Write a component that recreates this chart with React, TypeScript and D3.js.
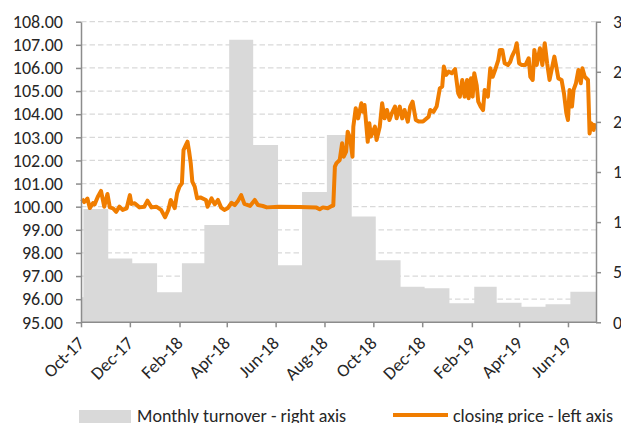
import * as d3 from "d3";
import React, { useRef, useEffect } from "react";

// monthly turnover (right axis), the first entry is the tail of Sep-17
const turnoverMonths = ["2017-09", "2017-10", "2017-11", "2017-12", "2018-01", "2018-02", "2018-03", "2018-04", "2018-05", "2018-06", "2018-07", "2018-08", "2018-09", "2018-10", "2018-11", "2018-12", "2019-01", "2019-02", "2019-03", "2019-04", "2019-05", "2019-06"];
const turnoverValues = [25, 113, 63.6, 59, 30, 59, 97, 282, 177, 57, 130, 187, 105.5, 62, 35.5, 34, 19, 35.5, 19.6, 15.6, 18, 30.6];

// closing price (left axis)
const priceDates = [
  "2017-10-02", "2017-10-05", "2017-10-09", "2017-10-12", "2017-10-16", "2017-10-18", "2017-10-22", "2017-10-26", "2017-10-30",
  "2017-11-03", "2017-11-06", "2017-11-10", "2017-11-14", "2017-11-18", "2017-11-22", "2017-11-27",
  "2017-12-01", "2017-12-03", "2017-12-07", "2017-12-13", "2017-12-19", "2017-12-23", "2017-12-28",
  "2018-01-03", "2018-01-09", "2018-01-14", "2018-01-18", "2018-01-21", "2018-01-26", "2018-01-29",
  "2018-02-01", "2018-02-04", "2018-02-06", "2018-02-09", "2018-02-11", "2018-02-13", "2018-02-15", "2018-02-17", "2018-02-20", "2018-02-23", "2018-02-27",
  "2018-03-06", "2018-03-08", "2018-03-13", "2018-03-17", "2018-03-21", "2018-03-25", "2018-03-29",
  "2018-04-02", "2018-04-07", "2018-04-11", "2018-04-15", "2018-04-19", "2018-04-23", "2018-04-30",
  "2018-05-06", "2018-05-10", "2018-05-16", "2018-05-21", "2018-06-05", "2018-07-01", "2018-07-22", "2018-07-26", "2018-07-30",
  "2018-08-05", "2018-08-10", "2018-08-12", "2018-08-14", "2018-08-16", "2018-08-20", "2018-08-23", "2018-08-25", "2018-08-28", "2018-08-30",
  "2018-09-02", "2018-09-05", "2018-09-06", "2018-09-09", "2018-09-12", "2018-09-16", "2018-09-18", "2018-09-20", "2018-09-22", "2018-09-24", "2018-09-26", "2018-09-28",
  "2018-10-03", "2018-10-05", "2018-10-09", "2018-10-12", "2018-10-15", "2018-10-18", "2018-10-21", "2018-10-24", "2018-10-28", "2018-10-30",
  "2018-11-03", "2018-11-06", "2018-11-09", "2018-11-13", "2018-11-16", "2018-11-19", "2018-11-23", "2018-11-27",
  "2018-12-02", "2018-12-09", "2018-12-11", "2018-12-15", "2018-12-19", "2018-12-23", "2018-12-26", "2018-12-28", "2018-12-31",
  "2019-01-03", "2019-01-07", "2019-01-11", "2019-01-15", "2019-01-17", "2019-01-20", "2019-01-23", "2019-01-26", "2019-01-28", "2019-01-31",
  "2019-02-02", "2019-02-04", "2019-02-07", "2019-02-09", "2019-02-12", "2019-02-15", "2019-02-17", "2019-02-21", "2019-02-24", "2019-02-27",
  "2019-03-02", "2019-03-06", "2019-03-08", "2019-03-11", "2019-03-14", "2019-03-18", "2019-03-21", "2019-03-23", "2019-03-27", "2019-03-29",
  "2019-04-01", "2019-04-04", "2019-04-09", "2019-04-13", "2019-04-15", "2019-04-18", "2019-04-20", "2019-04-23", "2019-04-27", "2019-04-30",
  "2019-05-03", "2019-05-06", "2019-05-09", "2019-05-12", "2019-05-15", "2019-05-17", "2019-05-20", "2019-05-24", "2019-05-27", "2019-05-30",
  "2019-06-01", "2019-06-03", "2019-06-06", "2019-06-08", "2019-06-11", "2019-06-14", "2019-06-17", "2019-06-19", "2019-06-22", "2019-06-26", "2019-06-28", "2019-06-30",
  "2019-07-03", "2019-07-05"
];
const priceValues = [
  100.33, 100.2, 100.35, 99.94, 100.16, 100.1, 100.43, 100.68, 100.0,
  100.55, 99.97, 99.93, 99.78, 100.0, 99.86, 99.93,
  100.5, 100.12, 100.15, 99.97, 100.0, 100.26, 99.97,
  100.0, 99.86, 99.54, 99.86, 100.29, 99.94, 100.58,
  100.87, 101.01, 102.45, 102.67, 102.81, 102.38, 101.88, 101.08, 100.87, 100.36, 100.4,
  100.29, 100.0, 100.36, 100.1, 100.29, 99.96, 99.86,
  99.93, 100.17, 100.07, 100.25, 100.5, 100.12, 100.03,
  100.29, 100.07, 100.03, 99.97, 100.0, 99.99, 99.96, 99.89, 99.97,
  99.93, 100.03, 100.05, 101.73, 101.88, 102.02, 102.74, 102.16, 102.38, 103.24,
  102.96, 102.16, 103.46, 104.26, 103.82, 104.47, 104.11, 104.4, 103.61, 102.81, 103.61, 103.03,
  103.46, 102.88, 103.46, 104.47, 103.82, 104.18, 103.75, 104.04, 104.33, 103.82,
  104.33, 103.82, 104.18, 103.68, 104.33, 104.54, 103.75, 103.68,
  103.68, 103.89, 104.18, 104.1, 104.33, 105.12, 105.19, 106.06, 105.7,
  105.84, 105.77, 105.95, 104.9, 104.76, 105.48, 104.76, 105.48, 104.69, 105.55,
  104.76, 105.77, 105.26, 104.54, 104.33, 104.18, 105.05, 104.76, 105.99, 105.62,
  105.91, 106.34, 106.78, 106.78, 106.2, 106.13, 106.27, 106.49, 106.78, 107.07,
  106.2, 106.13, 106.13, 106.42, 105.62, 105.48, 106.78, 106.13, 106.85, 106.13,
  107.07, 106.2, 105.48, 105.99, 106.49, 106.13, 105.55, 105.48, 104.9, 104.04,
  103.75, 105.05, 104.33, 105.05, 105.34, 105.91, 105.34, 105.99, 105.62, 105.48, 103.17, 103.61,
  103.32, 103.61
];

const leftTicks = d3.range(95, 108.5, 1);
const rightTicks = d3.range(0, 301, 50);

const W = 621;
const H = 423;
const FONT = "Carlito, Calibri, Lato, sans-serif";

function Chart() {
  const ref = useRef(null);

  useEffect(() => {
    const svg = d3.select(ref.current);
    svg.selectAll("*").remove();

    const left = 81;
    const right = 596;
    const top = 21.7;
    const bottom = 322.3;

    const parse = d3.timeParse("%Y-%m-%d");
    const start = new Date(2017, 9, 1);
    const end = new Date(2019, 6, 6);

    const x = d3.scaleTime().domain([start, end]).range([left, right]);
    const yL = d3.scaleLinear().domain([95, 108]).range([bottom, top]);
    const yR = d3.scaleLinear().domain([0, 300]).range([bottom, top]);

    // gridlines
    svg.append("g")
      .selectAll("line")
      .data(leftTicks.slice(1))
      .enter()
      .append("line")
      .attr("x1", left)
      .attr("x2", right)
      .attr("y1", (d) => yL(d))
      .attr("y2", (d) => yL(d))
      .attr("stroke", "#d9d9d9")
      .attr("stroke-width", 1.3)
      .attr("stroke-dasharray", "5.5,3");

    // turnover step area
    const steps = turnoverMonths.map((m, i) => {
      let d = d3.timeDay.offset(d3.timeParse("%Y-%m")(m), 3);
      if (d < start) d = start;
      return { date: d, value: turnoverValues[i] };
    });
    steps.push({ date: end, value: turnoverValues[turnoverValues.length - 1] });

    const area = d3.area()
      .x((d) => x(d.date))
      .y0(bottom)
      .y1((d) => yR(d.value))
      .curve(d3.curveStepAfter);

    svg.append("path")
      .datum(steps)
      .attr("d", area)
      .attr("fill", "#d9d9d9");

    // price line
    const prices = priceDates.map((d, i) => ({ date: parse(d), value: priceValues[i] }));
    const line = d3.line()
      .x((d) => x(d.date))
      .y((d) => yL(d.value))
      .curve(d3.curveLinear);

    svg.append("path")
      .datum(prices)
      .attr("d", line)
      .attr("fill", "none")
      .attr("stroke", "#f07d00")
      .attr("stroke-width", 4)
      .attr("stroke-linejoin", "round");

    const axisColor = "#8c8c8c";
    const styleAxis = (g) => {
      g.select(".domain").attr("stroke", axisColor).attr("stroke-width", 1.5);
      g.selectAll(".tick line").attr("stroke", axisColor).attr("stroke-width", 1.5);
      g.selectAll("text")
        .attr("fill", "#262626")
        .style("font-family", FONT)
        .style("font-size", "18px");
    };

    // left axis
    svg.append("g")
      .attr("transform", `translate(${left},0)`)
      .call(d3.axisLeft(yL).tickValues(leftTicks).tickFormat(d3.format(".2f")).tickSize(5).tickSizeOuter(0).tickPadding(13))
      .call(styleAxis);

    // right axis
    svg.append("g")
      .attr("transform", `translate(${right},0)`)
      .call(d3.axisRight(yR).tickValues(rightTicks).tickSize(5).tickSizeOuter(0).tickPadding(12))
      .call(styleAxis);

    // bottom axis
    const xTicks = d3.timeMonth.range(start, end, 2);
    const gx = svg.append("g")
      .attr("transform", `translate(0,${bottom})`)
      .call(d3.axisBottom(x).tickValues(xTicks).tickFormat(d3.timeFormat("%b-%y")).tickSize(5).tickSizeOuter(0))
      .call(styleAxis);
    gx.select(".domain").attr("d", `M${left},0H${right}`);
    gx.selectAll("text")
      .attr("text-anchor", "end")
      .attr("dy", 0)
      .attr("y", 0)
      .attr("transform", "translate(4,22) rotate(-45)");

    // legend
    const lg = svg.append("g").style("font-family", FONT).style("font-size", "18px").attr("fill", "#262626");
    lg.append("rect").attr("x", 79).attr("y", 410).attr("width", 52).attr("height", 16).attr("fill", "#d9d9d9");
    lg.append("text").attr("x", 137).attr("y", 422).text("Monthly turnover - right axis");
    lg.append("line").attr("x1", 393).attr("x2", 448).attr("y1", 415).attr("y2", 415)
      .attr("stroke", "#f07d00").attr("stroke-width", 4);
    lg.append("text").attr("x", 453).attr("y", 422).text("closing price - left axis");
  }, []);

  return <svg ref={ref} width={W} height={H} style={{ display: "block" }}></svg>;
}

export default function App() {
  return (
    <div style={{ position: "absolute", left: 0, top: 0, width: W, height: H, overflow: "hidden", background: "#fff" }}>
      <Chart />
    </div>
  );
}
